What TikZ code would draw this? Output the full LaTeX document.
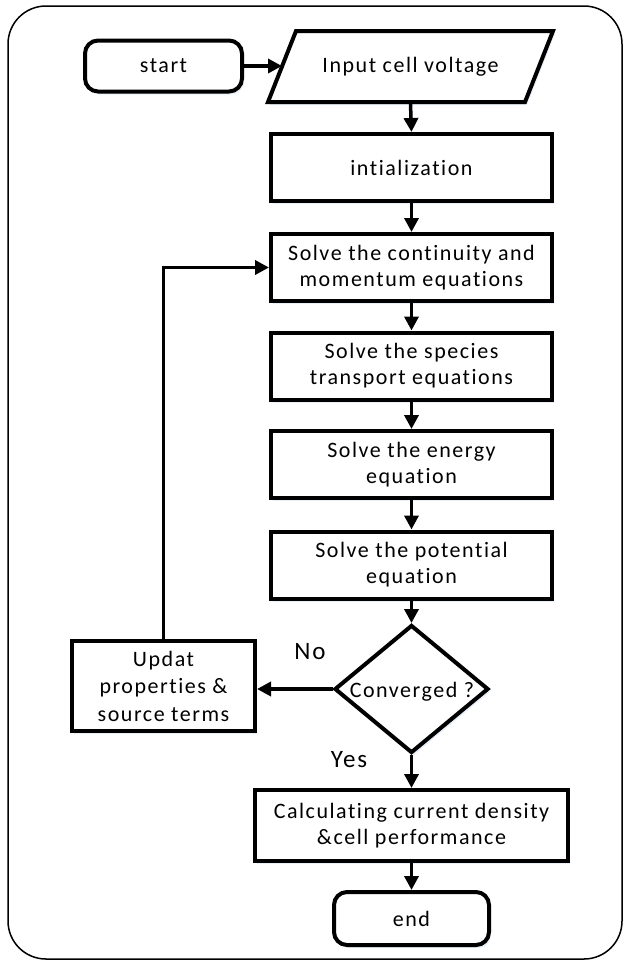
\documentclass[tikz,border=0pt]{standalone}
\usepackage{fontspec}
\setmainfont{Carlito}[LetterSpace=7, Ligatures={NoCommon}]
\usetikzlibrary{shapes.geometric,arrows.meta,shadows,backgrounds}
\tikzset{
  boxtext/.style={font=\fontsize{22}{26}\selectfont, align=center, inner sep=0pt},
  shade/.style={drop shadow={shadow xshift=2pt, shadow yshift=-3pt, fill=cyan!40!blue, opacity=0.10}},
  proc/.style={boxtext, draw, line width=4pt, fill=white, shade, minimum width=281pt, minimum height=67pt},
  term/.style={boxtext, draw, line width=4pt, fill=white, shade, rounded corners=13pt},
  conn/.style={line width=3.5pt, -{Triangle[length=14pt,width=14pt]}},
  yesno/.style={font=\fontsize{25}{28}\selectfont, inner sep=0pt},
}
\begin{document}
\begin{tikzpicture}[x=1pt,y=-1pt]
\useasboundingbox (0,0) rectangle (624,961);
\draw[line width=1.5pt, rounded corners=38pt] (8,6) rectangle (622,959);

\node[term, minimum width=157pt, minimum height=51pt] (start) at (163.5,66) {start};
\node[boxtext, minimum width=257pt, minimum height=71pt, outer sep=0pt] (inp) at (410.5,66.5) {Input cell voltage};
\begin{scope}[on background layer]
\draw[line width=4pt, fill=white, shade, line join=miter]
  ([xshift=-14pt]inp.south west) -- ([xshift=-14pt]inp.south east)
  -- ([xshift=14pt]inp.north east) -- ([xshift=14pt]inp.north west) -- cycle;
\end{scope}
\node[proc] (init) at (411.5,167.5) {intialization};
\node[proc] (cont) at (411.5,267.5) {Solve the continuity and\\momentum equations};
\node[proc] (spec) at (411.5,366) {Solve the species\\transport equations};
\node[proc] (ener) at (411.5,464.5) {Solve the energy\\equation};
\node[proc] (pot) at (411.5,565) {Solve the potential\\equation};
\node[draw, line width=4pt, fill=white, shade, diamond, inner sep=0pt, minimum width=154pt, minimum height=128pt] (conv) at (411.5,689) {};
\node[boxtext] (convtxt) at (412,692) {Converged ?};
\node[proc, minimum width=183pt, minimum height=90pt, font=\fontsize{22}{27.5}\selectfont] (upd) at (163.5,686) {Updat\\properties \&\\source terms};
\node[proc, minimum width=313pt, minimum height=71pt] (calc) at (411.5,825.5) {Calculating current density\\\&cell performance};
\node[term, minimum width=155pt, minimum height=53pt] (end) at (411.5,918.5) {end};

\node[yesno] (no) at (310,652) {No};
\node[yesno] (yes) at (349,760) {Yes};

\draw[conn] (start.east) -- (start.east -| inp.west);
\draw[conn] ([yshift=-2pt]inp.south) -- (init.north);
\draw[conn] (init.south) -- (cont.north);
\draw[conn] (cont.south) -- (spec.north);
\draw[conn] (spec.south) -- (ener.north);
\draw[conn] (ener.south) -- (pot.north);
\draw[conn] (pot.south) -- (conv.north);
\draw[conn] (conv.west) -- (conv.west -| upd.east);
\draw[conn] (upd.north) |- (cont.west);
\draw[conn] (conv.south) -- (calc.north);
\draw[conn] (calc.south) -- (end.north);
\end{tikzpicture}
\end{document}
